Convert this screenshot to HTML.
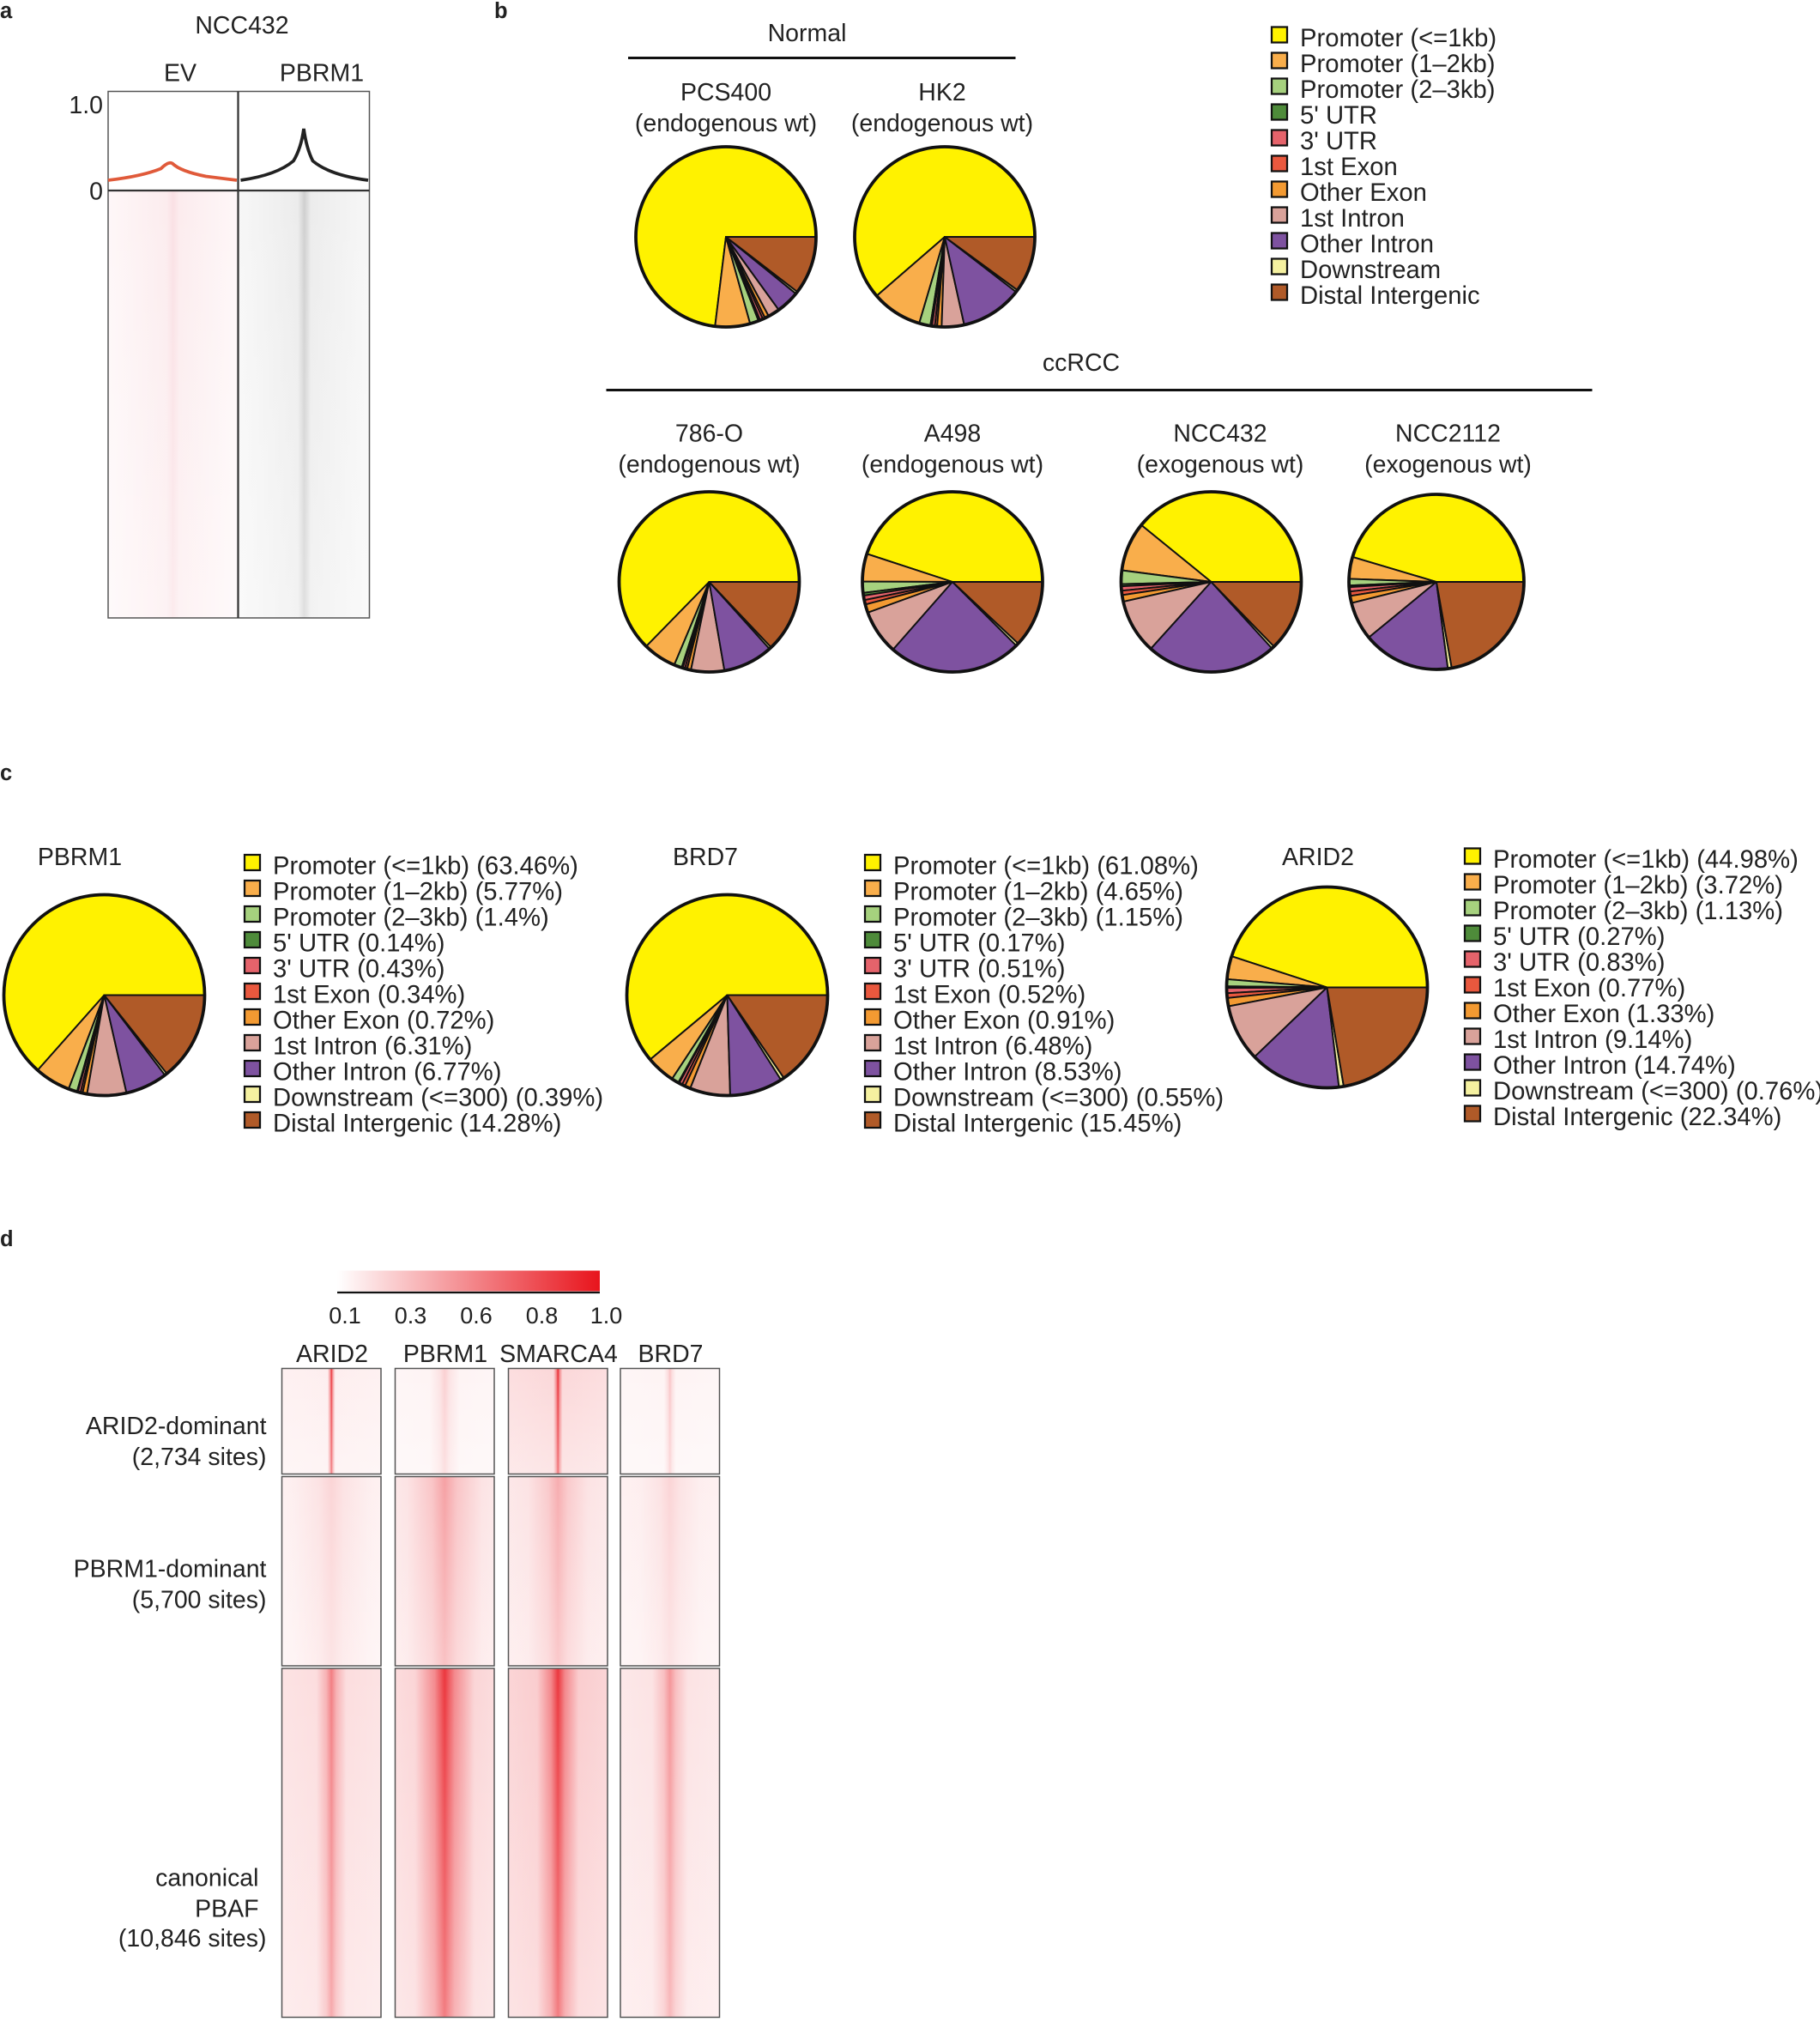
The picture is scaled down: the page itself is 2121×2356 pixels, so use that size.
<!DOCTYPE html>
<html><head><meta charset="utf-8"><style>
html,body{margin:0;padding:0;background:#fff}
svg{display:block}
text{font-family:"Liberation Sans",sans-serif;fill:#222}
</style></head><body>
<svg id="s" xmlns="http://www.w3.org/2000/svg" width="2121" height="2356" viewBox="0 0 1414 1570.67">
<defs>
<linearGradient id="ev" x1="0" x2="1"><stop offset="0" stop-color="#fef7f8"/><stop offset="0.45" stop-color="#fcecee"/><stop offset="0.5" stop-color="#fae0e4"/><stop offset="0.55" stop-color="#fcecee"/><stop offset="1" stop-color="#fef7f8"/></linearGradient>
<linearGradient id="pb" x1="0" x2="1"><stop offset="0" stop-color="#f7f7f7"/><stop offset="0.45" stop-color="#ececec"/><stop offset="0.5" stop-color="#cfcfcf"/><stop offset="0.55" stop-color="#ececec"/><stop offset="1" stop-color="#f7f7f7"/></linearGradient>
<linearGradient id="cb" x1="0" x2="1"><stop offset="0" stop-color="#fff"/><stop offset="1" stop-color="#e8141c"/></linearGradient>
<linearGradient id="fade" x1="0" x2="0" y1="0" y2="1"><stop offset="0" stop-color="#fff" stop-opacity="0"/><stop offset="1" stop-color="#fff" stop-opacity="0.35"/></linearGradient>
</defs>
<g id="root"></g>
</svg>
<script>
const NS="http://www.w3.org/2000/svg",R=document.getElementById('root'),D=document.querySelector('defs');
function el(t,a,txt){const e=document.createElementNS(NS,t);for(const k in a)e.setAttribute(k,a[k]);if(txt!=null)e.textContent=txt;R.appendChild(e);return e;}
function tx(x,y,s,fs,anc,w){el('text',{x,y,'font-size':fs||18,'text-anchor':anc||'start','font-weight':w||'normal'},s);}
const C=['#FFF200','#F9AE4B','#A6D17E','#4E8B3A','#E5636B','#E9583E','#F39A32','#D9A29A','#7E52A0','#F5F1A0','#B05A28'];
function pie(cx,cy,r,v){let tot=v.reduce((a,b)=>a+b,0),a=0;
 v.forEach((p,i)=>{let a2=a+p/tot*2*Math.PI;let x1=cx+r*Math.cos(a),y1=cy-r*Math.sin(a),x2=cx+r*Math.cos(a2),y2=cy-r*Math.sin(a2);
 let lg=(a2-a)>Math.PI?1:0;el('path',{d:`M${cx},${cy}L${x1},${y1}A${r},${r} 0 ${lg} 0 ${x2},${y2}Z`,fill:C[i],stroke:'#111','stroke-width':1.3,'stroke-linejoin':'round'});a=a2;});
 el('circle',{cx,cy,r,fill:'none',stroke:'#111','stroke-width':2.5});}
tx(0,14,'a',17,'start','bold');tx(384,14,'b',17,'start','bold');tx(0,606,'c',17,'start','bold');tx(0,968,'d',17,'start','bold');
// panel a
tx(188,26,'NCC432',19,'middle');tx(140,63,'EV',19,'middle');tx(250,63,'PBRM1',19,'middle');
tx(80,88,'1.0',19,'end');tx(80,155,'0',19,'end');
el('rect',{x:84,y:148,width:101,height:332,fill:'url(#ev)'});
el('rect',{x:186,y:148,width:101,height:332,fill:'url(#pb)'});
el('rect',{x:84,y:148,width:203,height:332,fill:'url(#fade)'});
el('rect',{x:84,y:71,width:203,height:409,fill:'none',stroke:'#555','stroke-width':1});
el('line',{x1:185,y1:71,x2:185,y2:480,stroke:'#333','stroke-width':1.5});
el('line',{x1:84,y1:148,x2:287,y2:148,stroke:'#333','stroke-width':1.5});
el('path',{d:'M84,140 Q110,137 125,131 Q131,125 134,127 Q140,133 160,137 L184,140',fill:'none',stroke:'#e05a3a','stroke-width':2.5});
el('path',{d:'M187,140 Q215,136 228,125 Q234,115 236,100 Q238,115 243,125 Q256,136 286,140',fill:'none',stroke:'#222','stroke-width':2.5});
// panel b
tx(627,32,'Normal',19,'middle');el('line',{x1:488,y1:45,x2:789,y2:45,stroke:'#111','stroke-width':2});
tx(564,78,'PCS400',19,'middle');tx(564,102,'(endogenous wt)',19,'middle');
tx(732,78,'HK2',19,'middle');tx(732,102,'(endogenous wt)',19,'middle');
pie(564,184,70,[70,6,1.5,.3,.5,.4,.7,2,4,.4,10]);
pie(734,184,70,[61,9,2,.3,.5,.4,.8,4,11,.4,10]);
tx(840,288,'ccRCC',19,'middle');el('line',{x1:471,y1:303,x2:1237,y2:303,stroke:'#111','stroke-width':2});
[[551,'786-O','(endogenous wt)'],[740,'A498','(endogenous wt)'],[948,'NCC432','(exogenous wt)'],[1125,'NCC2112','(exogenous wt)']].forEach(d=>{tx(d[0],343,d[1],19,'middle');tx(d[0],367,d[2],19,'middle');});
pie(551,452,70,[63,6,1.4,.2,.4,.4,.7,6,9,.4,13]);
pie(740,452,70,[45,5,2,.5,.8,.8,1.5,8,24,.5,12]);
pie(941,452,70,[40,9,2.5,.4,.8,.8,1.2,10,24,.5,13]);
pie(1116,452,68,[45,4,1.2,.3,.8,.8,1.3,7,16,.7,22]);
const L1=['Promoter (<=1kb)','Promoter (1\u20132kb)','Promoter (2\u20133kb)',"5' UTR","3' UTR",'1st Exon','Other Exon','1st Intron','Other Intron','Downstream','Distal Intergenic'];
function leg(x,y,labels,fs){labels.forEach((s,i)=>{el('rect',{x:x,y:y+i*20-11,width:12,height:12,fill:C[i],stroke:'#111','stroke-width':1.5});tx(x+22,y+i*20+4,s,fs||19.5);});}
leg(988,32,L1,19.5);
function mk(v){const n=['Promoter (<=1kb)','Promoter (1\u20132kb)','Promoter (2\u20133kb)',"5' UTR","3' UTR",'1st Exon','Other Exon','1st Intron','Other Intron','Downstream (<=300)','Distal Intergenic'];return n.map((s,i)=>s+' ('+v[i]+'%)');}
const P=[63.46,5.77,1.4,0.14,0.43,0.34,0.72,6.31,6.77,0.39,14.28],B=[61.08,4.65,1.15,0.17,0.51,0.52,0.91,6.48,8.53,0.55,15.45],A=[44.98,3.72,1.13,0.27,0.83,0.77,1.33,9.14,14.74,0.76,22.34];
tx(62,672,'PBRM1',19,'middle');pie(81,773,78,P);leg(190,675,mk(P));
tx(548,672,'BRD7',19,'middle');pie(565,773,78,B);leg(672,675,mk(B));
tx(1024,672,'ARID2',19,'middle');pie(1031,767,78,A);leg(1138,670,mk(A));
// panel d
el('rect',{x:262,y:987,width:204,height:16,fill:'url(#cb)'});
el('line',{x1:262,y1:1004,x2:466,y2:1004,stroke:'#111','stroke-width':1.5});
[[268,'0.1'],[319,'0.3'],[370,'0.6'],[421,'0.8'],[471,'1.0']].forEach(t=>{tx(t[0],1028,t[1],18,'middle');});
const cols=[[219,'ARID2'],[307,'PBRM1'],[395,'SMARCA4'],[482,'BRD7']];
cols.forEach(c=>tx(c[0]+39,1058,c[1],19,'middle'));
const rows=[[1063,82],[1147,147],[1296,271]];
const I=[[[.85,.025,.06],[.2,.1,.04],[.9,.03,.14],[.25,.04,.04]],
 [[.18,.25,.06],[.4,.25,.1],[.35,.2,.1],[.18,.2,.06]],
 [[.55,.1,.12],[.85,.2,.15],[.85,.14,.18],[.45,.12,.1]]];
let gid=0;
rows.forEach((r,ri)=>cols.forEach((c,ci)=>{const [pk,w,bg]=I[ri][ci];const id='g'+(gid++);
 const g=document.createElementNS(NS,'linearGradient');g.setAttribute('id',id);g.setAttribute('x1','0');g.setAttribute('x2','1');
 [[0,bg],[.5-w*1.5,bg*1.2],[.5-w*.5,(bg+pk)/2],[.5,pk],[.5+w*.5,(bg+pk)/2],[.5+w*1.5,bg*1.2],[1,bg]].forEach(s=>{const st=document.createElementNS(NS,'stop');st.setAttribute('offset',Math.max(0,Math.min(1,s[0])));st.setAttribute('stop-color','#e8141c');st.setAttribute('stop-opacity',Math.min(1,s[1]));g.appendChild(st);});
 D.appendChild(g);
 el('rect',{x:c[0],y:r[0],width:77,height:r[1],fill:'#fff'});
 el('rect',{x:c[0],y:r[0],width:77,height:r[1],fill:'url(#'+id+')'});
 el('rect',{x:c[0],y:r[0],width:77,height:r[1],fill:'url(#fade)'});
 el('rect',{x:c[0],y:r[0],width:77,height:r[1],fill:'none',stroke:'#555','stroke-width':1});}));
tx(207,1114,'ARID2-dominant',19,'end');tx(207,1138,'(2,734 sites)',19,'end');
tx(207,1225,'PBRM1-dominant',19,'end');tx(207,1249,'(5,700 sites)',19,'end');
tx(201,1465,'canonical',19,'end');tx(201,1489,'PBAF',19,'end');tx(207,1512,'(10,846 sites)',19,'end');
</script>
</body></html>
